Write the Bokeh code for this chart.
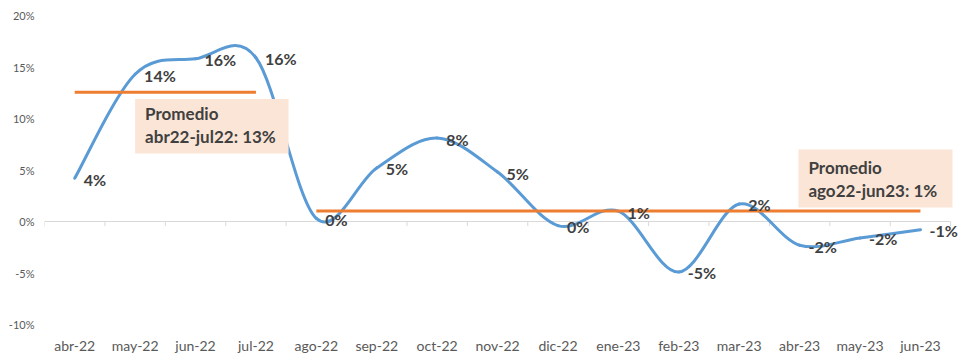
import numpy as np
from bokeh.plotting import figure
from bokeh.models import (Range1d, FixedTicker, PrintfTickFormatter, BoxAnnotation,
                          Label, ColumnDataSource)
from bokeh.core.properties import value
from bokeh.embed import file_html
from bokeh.resources import INLINE

# ---------------- data ----------------
months = ["abr-22", "may-22", "jun-22", "jul-22", "ago-22", "sep-22", "oct-22", "nov-22",
          "dic-22", "ene-23", "feb-23", "mar-23", "abr-23", "may-23", "jun-23"]
growth = [4.2, 14.3, 15.8, 15.9, 0.3, 5.2, 8.1, 4.8, -0.4, 1.0, -4.9, 1.7, -2.3, -1.6, -0.8]
y_ticks = [-10, -5, 0, 5, 10, 15, 20]
period1 = (0, 3)     # abr22-jul22
period2 = (4, 14)    # ago22-jun23
period1_name = "abr22-jul22"
period2_name = "ago22-jun23"

FONT = "Lato"
BLUE = "#5B9BD5"
ORANGE = "#ED7D31"
LABEL_COLOR = "#404040"
AXIS_TEXT = "#595959"

n = len(months)
xs = np.arange(n, dtype=float)
ys = np.array(growth, dtype=float)

p = figure(width=961, height=356, output_backend="svg", toolbar_location=None,
           x_range=Range1d(-0.5, n - 0.5 + 0.13), y_range=Range1d(-10, 20),
           min_border_left=44, min_border_right=3, min_border_top=15, min_border_bottom=31)
p.outline_line_color = None
p.xgrid.visible = False
p.ygrid.visible = False
p.background_fill_color = "white"

# x axis (labels only)
xa = p.xaxis[0]
xa.ticker = FixedTicker(ticks=list(range(n)))
xa.major_label_overrides = {i: m for i, m in enumerate(months)}
xa.axis_line_color = None
xa.major_tick_line_color = None
xa.minor_tick_line_color = None
xa.major_tick_out = 0
xa.major_label_standoff = 12
xa.major_label_text_font = FONT
xa.major_label_text_font_size = "14px"
xa.major_label_text_color = AXIS_TEXT

# y axis
ya = p.yaxis[0]
ya.ticker = FixedTicker(ticks=y_ticks)
ya.formatter = PrintfTickFormatter(format="%d%%")
ya.axis_line_color = None
ya.major_tick_line_color = None
ya.minor_tick_line_color = None
ya.major_tick_out = 0
ya.major_label_standoff = 10
ya.major_label_text_font = FONT
ya.major_label_text_font_size = "11px"
ya.major_label_text_color = AXIS_TEXT

# zero axis line with category-boundary ticks
edges = np.arange(n + 1) - 0.5
p.segment(x0=[edges[0]], y0=[0], x1=[edges[-1]], y1=[0], line_color="#D9D9D9", line_width=1)
p.segment(x0=edges, y0=np.zeros(n + 1), x1=edges, y1=np.full(n + 1, -0.45),
          line_color="#D9D9D9", line_width=1)

# smoothed line (Catmull-Rom style bezier segments)
prev_y = np.concatenate([[ys[0]], ys[:-1]])
next_y = np.concatenate([ys[1:], [ys[-1]]])
prev_x = np.concatenate([[xs[0]], xs[:-1]])
next_x = np.concatenate([xs[1:], [xs[-1]]])
dx = (next_x - prev_x) / 2.0
dy = (next_y - prev_y) / 2.0
src = ColumnDataSource(dict(
    x0=xs[:-1], y0=ys[:-1], x1=xs[1:], y1=ys[1:],
    cx0=xs[:-1] + dx[:-1] / 3.0, cy0=ys[:-1] + dy[:-1] / 3.0,
    cx1=xs[1:] - dx[1:] / 3.0, cy1=ys[1:] - dy[1:] / 3.0,
))
p.bezier(x0="x0", y0="y0", x1="x1", y1="y1", cx0="cx0", cy0="cy0", cx1="cx1", cy1="cy1",
         source=src, line_color=BLUE, line_width=3, line_cap="round")

# averages
avg1 = float(np.mean(ys[period1[0]:period1[1] + 1]))
avg2 = float(np.mean(ys[period2[0]:period2[1] + 1]))
p.line(x=list(period1), y=[avg1, avg1], line_color=ORANGE, line_width=3)
p.line(x=list(period2), y=[avg2, avg2], line_color=ORANGE, line_width=3)

# annotation boxes
p.add_layout(BoxAnnotation(left=1.0, right=3.54, top=11.9, bottom=6.6,
                           fill_color="#FBE5D6", fill_alpha=1.0, line_color=None))
p.add_layout(BoxAnnotation(left=11.98, right=14.53, top=7.0, bottom=1.35,
                           fill_color="#FBE5D6", fill_alpha=1.0, line_color=None))

def box_text(x, y, txt):
    p.add_layout(Label(x=x, y=y, text=txt, x_offset=10, text_baseline="middle",
                       text_align="left", text_font=FONT, text_font_style="bold",
                       text_font_size="17px", text_color=LABEL_COLOR))

box_text(1.0, 10.45, "Promedio")
box_text(1.0, 8.25, f"{period1_name}: {avg1:.0f}%")
box_text(11.98, 5.26, "Promedio")
box_text(11.98, 3.0, f"{period2_name}: {avg2:.0f}%")

# data labels
labels = [f"{int(round(v)):d}%" for v in growth]
p.text(x=xs, y=ys, text=labels, x_offset=9, y_offset=1, text_align="left",
       text_baseline="middle", text_font=value(FONT), text_font_style="bold",
       text_font_size="16px", text_color=LABEL_COLOR)

open("out.html", "w").write(file_html(p, INLINE))
